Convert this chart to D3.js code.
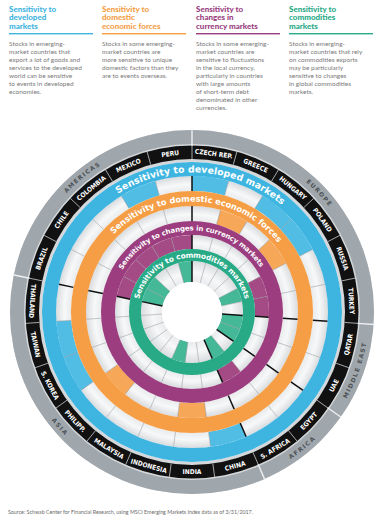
<!DOCTYPE html>
<html>
<head>
<meta charset="utf-8">
<script src="https://cdn.jsdelivr.net/npm/d3@7"></script>
<style>
  body { margin: 0; background: #fff; }
  svg { display: block; }
</style>
</head>
<body>
<svg id="chart" width="385" height="523"></svg>
<script>
// countries clockwise from 12 o'clock
const countries = ["Czech Rep.", "Greece", "Hungary", "Poland", "Russia", "Turkey",
  "Qatar", "UAE", "Egypt", "S. Africa", "China", "India", "Indonesia", "Malaysia",
  "Philipp.", "S. Korea", "Taiwan", "Thailand", "Brazil", "Chile", "Colombia",
  "Mexico", "Peru"];

const regionNames = ["EUROPE", "MIDDLE EAST", "AFRICA", "ASIA", "AMERICAS"];
const regionFirst = ["Czech Rep.", "Qatar", "Egypt", "China", "Brazil"];
const regionLast = ["Turkey", "UAE", "S. Africa", "Thailand", "Peru"];

const developed = ["Czech Rep.", "Hungary", "Poland", "China", "S. Korea", "Taiwan", "Mexico"];
const domestic = ["Greece", "Poland", "India", "Philipp."];
const currency = ["Russia", "Turkey", "S. Africa", "Brazil", "Chile", "Colombia", "Mexico", "Peru"];
const commodities = ["Russia", "Qatar", "UAE", "S. Africa", "Indonesia", "Brazil", "Chile", "Peru"];

const ringTitles = ["Sensitivity to developed markets", "Sensitivity to domestic economic forces",
  "Sensitivity to changes in currency markets", "Sensitivity to commodities markets"];

const headTitles = [
  ["Sensitivity to", "developed", "markets"],
  ["Sensitivity to", "domestic", "economic forces"],
  ["Sensitivity to", "changes in", "currency markets"],
  ["Sensitivity to", "commodities", "markets"]
];
const headTexts = [
  ["Stocks in emerging-", "market countries that", "export a lot of goods and",
   "services to the developed", "world can be sensitive", "to events in developed", "economies."],
  ["Stocks in some emerging-", "market countries are", "more sensitive to unique",
   "domestic factors than they", "are to events overseas."],
  ["Stocks in some emerging-", "market countries are", "sensitive to fluctuations",
   "in the local currency,", "particularly in countries", "with large amounts",
   "of short-term debt", "denominated in other", "currencies."],
  ["Stocks in emerging-", "market countries that rely", "on commodities exports",
   "may be particularly", "sensitive to changes", "in global commodities", "markets."]
];

const colors = ["#3db5e0", "#f59e45", "#9b3d7e", "#28aa87"];
const cellColors = ["#52bde4", "#f6a757", "#a44b86", "#45b997"];
const sets = [developed, domestic, currency, commodities];

const svg = d3.select("#chart");
const font = "Lato, 'Open Sans', sans-serif";
const boldFont = "'DejaVu Sans', sans-serif";

// header columns
const colX = [9, 102, 196, 289];
const colW = 84;
headTitles.forEach((lines, i) => {
  const g = svg.append("g").attr("transform", `translate(${colX[i]},0)`);
  g.selectAll("text.t").data(lines).join("text")
    .attr("x", 0).attr("y", (d, j) => 11.5 + j * 8.8)
    .attr("fill", colors[i]).attr("font-family", font).attr("font-weight", 900)
    .attr("font-size", 8).text(d => d);
  g.append("rect").attr("x", 0).attr("y", 33).attr("width", colW).attr("height", 1.4)
    .attr("fill", colors[i]);
  g.selectAll("text.b").data(headTexts[i]).join("text")
    .attr("x", 0).attr("y", (d, j) => 45.5 + j * 8)
    .attr("fill", "#7a7a7a").attr("font-family", font)
    .attr("font-size", 6.5).text(d => d);
});

svg.append("text").attr("x", 8).attr("y", 514)
  .attr("fill", "#6b6b6b").attr("font-family", font).attr("font-size", 5.3)
  .text("Source: Schwab Center for Financial Research, using MSCI Emerging Markets Index data as of 3/31/2017.");

// wheel
const cx = 192, cy = 312;
const wheel = svg.append("g").attr("transform", `translate(${cx},${cy})`);
const angle = d3.scaleBand().domain(countries).range([0, 2 * Math.PI]);
const step = angle.bandwidth();

// radii per ring, outside in
const rings = [
  { cellIn: 121, cellOut: 136, bandOut: 150 },
  { cellIn: 91, cellOut: 106, bandOut: 121 },
  { cellIn: 63, cellOut: 77, bandOut: 91 },
  { cellIn: 30, cellOut: 51, bandOut: 63 }
];

const defs = svg.append("defs");
rings.forEach((r, i) => {
  const grad = defs.append("radialGradient").attr("id", "cellgrad" + i)
    .attr("gradientUnits", "userSpaceOnUse").attr("cx", 0).attr("cy", 0).attr("r", r.cellOut);
  const f = r.cellIn / r.cellOut;
  grad.append("stop").attr("offset", f).attr("stop-color", "#e9ebed");
  grad.append("stop").attr("offset", f + (1 - f) * 0.45).attr("stop-color", "#f7f8f8");
  grad.append("stop").attr("offset", 1).attr("stop-color", "#d9dcdf");
});

const arc = d3.arc();
const full = { startAngle: 0, endAngle: 2 * Math.PI };

// gray outer ring + black ring
wheel.append("path").attr("d", arc({ innerRadius: 150, outerRadius: 182, ...full })).attr("fill", "#d4d8db");
wheel.append("path").attr("d", arc({ innerRadius: 168, outerRadius: 182, ...full })).attr("fill", "#9fa6ac");
wheel.append("path").attr("d", arc({ innerRadius: 153, outerRadius: 166.5, ...full })).attr("fill", "#111");

// country separators in black ring
wheel.selectAll("line.csep").data(countries).join("line")
  .attr("x1", d => 153 * Math.sin(angle(d))).attr("y1", d => -153 * Math.cos(angle(d)))
  .attr("x2", d => 166.5 * Math.sin(angle(d))).attr("y2", d => -166.5 * Math.cos(angle(d)))
  .attr("stroke", "#c9cdd0").attr("stroke-width", 0.8);

// region separators across gray ring
const regionStart = regionFirst.map(c => angle(c));
const regionEnd = regionLast.map(c => angle(c) + step);
wheel.selectAll("line.rsep").data(regionStart).join("line")
  .attr("x1", a => 166 * Math.sin(a)).attr("y1", a => -166 * Math.cos(a))
  .attr("x2", a => 183 * Math.sin(a)).attr("y2", a => -183 * Math.cos(a))
  .attr("stroke", "#eef0f1").attr("stroke-width", 1.4);

// country labels
wheel.selectAll("text.country").data(countries).join("text")
  .attr("transform", d => {
    const deg = (angle(d) + step / 2) * 180 / Math.PI;
    const bottom = deg > 95 && deg < 280;
    const rot = bottom ? deg - 180 : deg;
    return `rotate(${rot}) translate(0,${bottom ? 159.8 : -159.8})`;
  })
  .attr("text-anchor", "middle").attr("dy", "0.36em")
  .attr("fill", "#fff").attr("font-family", "'DejaVu Sans Condensed', 'DejaVu Sans', sans-serif")
  .attr("font-weight", 700).attr("font-size", 6.6)
  .text(d => d.toUpperCase());

// region labels on curved paths
regionNames.forEach((name, i) => {
  let a0 = regionStart[i], a1 = regionEnd[i];
  if (a1 < a0) a1 += 2 * Math.PI;
  let mid = (a0 + a1) / 2;
  if (name === "ASIA") mid = 229 * Math.PI / 180;
  const deg = ((mid * 180 / Math.PI) % 360 + 360) % 360;
  const bottom = deg > 95 && deg < 280;
  const span = 0.5;
  const p = d3.path();
  const rr = 175;
  if (!bottom) {
    p.arc(0, 0, rr, mid - span - Math.PI / 2, mid + span - Math.PI / 2, false);
  } else {
    p.arc(0, 0, rr, mid + span - Math.PI / 2, mid - span - Math.PI / 2, true);
  }
  defs.append("path").attr("id", "reg" + i).attr("d", p.toString());
  wheel.append("text")
    .attr("dy", "0.35em")
    .attr("fill", "#4d5357").attr("font-family", boldFont)
    .attr("font-weight", 700).attr("font-size", 6).attr("letter-spacing", 1.3)
    .append("textPath").attr("href", "#reg" + i)
    .attr("startOffset", "50%").attr("text-anchor", "middle")
    .text(name);
});

// cell rings and bands
rings.forEach((r, i) => {
  const g = wheel.append("g");
  g.selectAll("path.cell").data(countries).join("path")
    .attr("d", d => arc({ innerRadius: r.cellIn, outerRadius: r.cellOut,
      startAngle: angle(d), endAngle: angle(d) + step }))
    .attr("fill", d => sets[i].includes(d) ? cellColors[i] : `url(#cellgrad${i})`);
  g.selectAll("line.sep").data(countries).join("line")
    .attr("x1", d => r.cellIn * Math.sin(angle(d))).attr("y1", d => -r.cellIn * Math.cos(angle(d)))
    .attr("x2", d => r.cellOut * Math.sin(angle(d))).attr("y2", d => -r.cellOut * Math.cos(angle(d)))
    .attr("stroke", d => regionFirst.includes(d) ? "#111" : "#8d9194")
    .attr("stroke-width", d => regionFirst.includes(d) ? 1.5 : 0.5);
  g.append("path")
    .attr("d", arc({ innerRadius: r.cellOut, outerRadius: r.bandOut, ...full }))
    .attr("fill", colors[i]);
});

// white centre
wheel.append("circle").attr("r", 30).attr("fill", "#fff");

// band titles
const titleSpecs = [
  { r: 143, size: 9.3, spacing: 0.2, mid: 4 },
  { r: 113.5, size: 8.3, spacing: 0.1, mid: 3 },
  { r: 84, size: 7, spacing: 0, mid: -1 },
  { r: 57, size: 7.4, spacing: 0.1, mid: 0 }
];
ringTitles.forEach((t, i) => {
  const s = titleSpecs[i];
  const m = s.mid * Math.PI / 180 - Math.PI / 2;
  const p = d3.path();
  p.arc(0, 0, s.r, m - 1.65, m + 1.65, false);
  defs.append("path").attr("id", "band" + i).attr("d", p.toString());
  wheel.append("text").attr("dy", "0.36em")
    .attr("fill", "#fff").attr("font-family", boldFont).attr("font-weight", 700)
    .attr("font-size", s.size).attr("letter-spacing", s.spacing)
    .append("textPath").attr("href", "#band" + i)
    .attr("startOffset", "50%").attr("text-anchor", "middle")
    .text(t);
});
</script>
</body>
</html>
